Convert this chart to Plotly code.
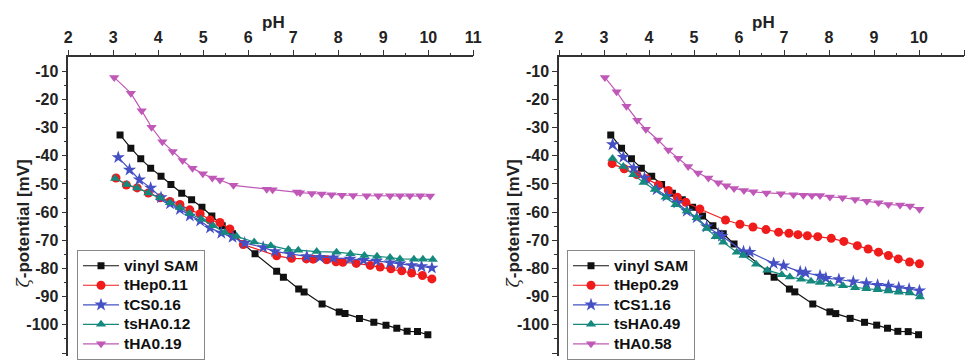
import plotly.graph_objects as go

# ---- data: zeta potential vs pH ----
# vinyl SAM reference (same surface in both panels)
ph_sam = [3.15, 3.39, 3.61, 3.83, 4.06, 4.28, 4.52, 4.74, 4.97, 5.19, 5.42, 5.65, 5.89, 6.15,
          6.63, 6.78, 7.12, 7.24, 7.64, 8.02, 8.15, 8.47, 8.79, 9.06, 9.30, 9.53, 9.76, 9.99]
zeta_sam = [-32.6, -37.3, -41.1, -44.4, -47.3, -50.2, -53.3, -55.6, -58.3, -61.4, -64.8, -67.7, -71.3, -74.8,
            -81.0, -83.1, -87.3, -88.3, -92.6, -95.4, -96.0, -97.7, -99.1, -100.1, -101.2, -102.3, -102.4, -103.5]

# left panel
ph_hep011 = [3.06, 3.29, 3.53, 3.78, 4.04, 4.26, 4.48, 4.70, 4.93, 5.15, 5.37, 5.59, 5.89, 6.63,
             6.96, 7.29, 7.44, 7.74, 7.95, 8.10, 8.40, 8.71, 8.93, 9.17, 9.41, 9.63, 9.87, 10.08]
zeta_hep011 = [-47.9, -50.4, -51.4, -53.2, -54.9, -56.2, -57.3, -59.2, -60.6, -62.8, -63.7, -66.0, -71.5, -75.5,
               -76.4, -76.6, -76.7, -76.9, -77.6, -77.8, -78.2, -78.9, -79.5, -80.1, -80.8, -81.6, -82.5, -83.7]

ph_cs016 = [3.11, 3.36, 3.58, 3.83, 4.06, 4.26, 4.48, 4.70, 4.93, 5.15, 5.40, 5.65, 5.92, 6.33,
            6.59, 6.93, 7.30, 7.59, 7.89, 8.26, 8.56, 8.85, 9.15, 9.37, 9.63, 9.85, 10.08]
zeta_cs016 = [-40.6, -45.0, -48.5, -51.4, -54.8, -57.0, -59.0, -61.3, -63.1, -65.6, -67.4, -68.9, -71.0, -72.5,
              -73.9, -74.8, -75.7, -76.0, -76.2, -76.6, -77.0, -77.3, -77.9, -78.3, -78.9, -79.3, -79.8]

ph_sha012 = [3.04, 3.30, 3.53, 3.78, 4.04, 4.26, 4.48, 4.70, 4.96, 5.22, 5.48, 5.74, 6.13,
             6.50, 6.89, 7.11, 7.52, 7.96, 8.27, 8.58, 8.86, 9.15, 9.37, 9.68, 9.88, 10.10]
zeta_sha012 = [-48.1, -50.2, -51.4, -53.2, -54.9, -56.7, -58.4, -60.5, -62.5, -64.8, -67.2, -68.6, -70.6,
               -71.9, -73.3, -73.5, -74.0, -74.2, -74.8, -75.4, -75.7, -76.1, -76.6, -76.7, -76.7, -76.8]

ph_ha019 = [3.02, 3.39, 3.63, 3.85, 4.09, 4.32, 4.54, 4.76, 4.99, 5.20, 5.37, 5.67, 6.41, 6.54,
            7.08, 7.15, 7.41, 7.63, 7.85, 8.08, 8.33, 8.63, 8.89, 9.15, 9.37, 9.59, 9.82, 10.04]
zeta_ha019 = [-12.2, -17.8, -24.0, -29.9, -35.0, -38.5, -41.7, -44.4, -46.4, -47.9, -48.6, -50.5, -51.9, -52.1,
              -52.9, -53.1, -53.4, -53.6, -53.8, -54.0, -54.1, -54.2, -54.2, -54.2, -54.2, -54.2, -54.2, -54.3]

# right panel
ph_hep029 = [3.18, 3.45, 3.73, 3.95, 4.21, 4.43, 4.63, 4.82, 5.13, 5.70, 6.02, 6.31, 6.60, 6.88,
             7.11, 7.31, 7.52, 7.75, 8.05, 8.33, 8.63, 8.87, 9.10, 9.32, 9.54, 9.79, 10.01]
zeta_hep029 = [-42.8, -44.6, -46.7, -48.2, -50.4, -52.3, -54.7, -56.5, -58.9, -62.8, -64.3, -65.3, -66.2, -67.1,
               -67.5, -68.0, -68.4, -68.7, -69.3, -70.4, -71.9, -73.1, -74.2, -75.4, -76.6, -77.7, -78.3]

ph_cs116 = [3.19, 3.43, 3.66, 3.90, 4.17, 4.39, 4.63, 4.84, 5.06, 5.28, 5.54, 5.62, 6.10, 6.24,
            6.77, 6.99, 7.36, 7.48, 7.80, 7.93, 8.22, 8.54, 8.83, 9.08, 9.32, 9.55, 9.78, 10.01]
zeta_cs116 = [-36.0, -40.5, -44.4, -47.9, -52.0, -54.3, -56.7, -59.6, -61.9, -65.2, -67.8, -68.5, -74.0, -74.2,
              -78.2, -79.0, -81.2, -81.5, -82.6, -83.4, -83.9, -84.7, -85.3, -85.9, -86.2, -86.8, -87.3, -87.9]

ph_sha049 = [3.19, 3.43, 3.65, 3.88, 4.13, 4.37, 4.59, 4.84, 5.06, 5.28, 5.48, 5.65, 5.95, 6.10, 6.38,
             6.63, 6.95, 7.13, 7.38, 7.60, 7.80, 8.03, 8.31, 8.58, 8.83, 9.08, 9.32, 9.55, 9.80, 10.02]
zeta_sha049 = [-41.0, -43.8, -46.7, -49.5, -52.0, -54.7, -57.4, -59.6, -62.0, -65.8, -68.7, -70.7, -74.2, -75.4, -78.5,
               -80.6, -82.2, -83.0, -83.8, -84.5, -85.0, -85.6, -86.1, -86.8, -87.2, -87.5, -88.0, -88.4, -88.7, -90.1]

ph_ha058 = [3.02, 3.28, 3.50, 3.74, 3.93, 4.20, 4.43, 4.65, 4.87, 5.09, 5.32, 5.54, 5.72, 5.89, 6.11, 6.32,
            6.61, 6.93, 7.21, 7.43, 7.62, 7.80, 8.02, 8.30, 8.58, 8.84, 9.10, 9.32, 9.58, 9.80, 10.01]
zeta_ha058 = [-12.2, -17.3, -22.4, -27.4, -30.6, -34.4, -38.0, -40.9, -43.8, -46.1, -47.9, -49.6, -50.6, -51.6, -52.3, -52.8,
              -53.2, -53.5, -53.8, -54.0, -54.1, -54.1, -54.6, -54.9, -55.5, -56.1, -56.7, -57.3, -57.5, -57.8, -59.0]

x_ticks = [2, 3, 4, 5, 6, 7, 8, 9, 10, 11]
y_ticks = [-10, -20, -30, -40, -50, -60, -70, -80, -90, -100, -110]

BLACK = "#111111"
RED = "#f01c1c"
BLUE = "#4450c4"
TEAL = "#15897e"
MAGENTA = "#c058b8"

FONT = "Liberation Sans, Arial, sans-serif"

left = [
    ("vinyl SAM", ph_sam, zeta_sam, BLACK, "square", 7),
    ("tHep0.11", ph_hep011, zeta_hep011, RED, "circle", 9),
    ("tCS0.16", ph_cs016, zeta_cs016, BLUE, "star", 10),
    ("tsHA0.12", ph_sha012, zeta_sha012, TEAL, "triangle-up", 9),
    ("tHA0.19", ph_ha019, zeta_ha019, MAGENTA, "triangle-down", 9),
]
right = [
    ("vinyl SAM", ph_sam, zeta_sam, BLACK, "square", 7),
    ("tHep0.29", ph_hep029, zeta_hep029, RED, "circle", 9),
    ("tCS1.16", ph_cs116, zeta_cs116, BLUE, "star", 10),
    ("tsHA0.49", ph_sha049, zeta_sha049, TEAL, "triangle-up", 9),
    ("tHA0.58", ph_ha058, zeta_ha058, MAGENTA, "triangle-down", 9),
]


def legend_label(text):
    # large bold entry text on a compact row pitch
    return "<span style='font-size:15.5px;font-weight:bold'>" + text + "</span>"


fig = go.Figure()
for series, xa, ya, lg in [(left, "x", "y", "legend"), (right, "x2", "y2", "legend2")]:
    for name, xs, ys, col, sym, sz in series:
        fig.add_trace(go.Scatter(
            x=xs, y=ys, name=legend_label(name), mode="lines+markers",
            line=dict(color=col, width=1.2),
            marker=dict(symbol=sym, size=sz, color=col, line=dict(width=0)),
            xaxis=xa, yaxis=ya, legend=lg,
        ))

W, H = 965, 360
TOP = 58  # pixel row of the top (pH) axis line
axis_col = "#333333"
tickfont = dict(family=FONT, size=16, color="#222222")
titlefont = dict(family=FONT, size=17, color="#222222")


def xaxis(domain, anchor):
    return dict(
        domain=domain, anchor=anchor, side="top", range=[2, 11], automargin=False,
        tickvals=x_ticks, ticktext=["<b>%d</b>" % v for v in x_ticks],
        ticks="outside", ticklen=6, tickwidth=1.3, tickcolor=axis_col,
        minor=dict(dtick=0.5, tick0=2, ticks="outside", ticklen=3, tickwidth=1.2, tickcolor=axis_col),
        showline=True, linecolor=axis_col, linewidth=1.5, showgrid=False, zeroline=False,
        tickfont=tickfont,
    )


def yaxis(anchor):
    return dict(
        domain=[0, (H - TOP) / H], anchor=anchor, range=[-111.05, -5.09], automargin=False,
        tickvals=y_ticks, ticktext=["<b>%d</b>" % v for v in y_ticks],
        ticks="outside", ticklen=5, tickwidth=1.3, tickcolor=axis_col,
        minor=dict(dtick=5, tick0=-5, ticks="outside", ticklen=3, tickwidth=1.2, tickcolor=axis_col),
        showline=True, linecolor=axis_col, linewidth=1.5, showgrid=False, zeroline=False,
        tickfont=tickfont,
    )


legend_style = dict(
    xanchor="left", yanchor="top", bgcolor="white", bordercolor="#888888", borderwidth=1,
    font=dict(family=FONT, size=12.7, color="#111111"),
    itemwidth=36, tracegroupgap=0,
)

zeta_title = ("<span style='font-family:DejaVu Serif;font-style:italic;font-weight:normal'>ζ</span>"
              "<b>-potential [mV]</b>")

annotations = []
for cx, ty in [(273, 23), (763, 23)]:
    annotations.append(dict(text="<b>pH</b>", x=cx / W, y=(H - ty) / H, xref="paper", yref="paper",
                            showarrow=False, font=titlefont, xanchor="center", yanchor="middle"))
for cx in [23, 513]:
    annotations.append(dict(text=zeta_title, x=cx / W, y=(H - 226) / H,
                            xref="paper", yref="paper", showarrow=False, textangle=-90,
                            font=titlefont, xanchor="center", yanchor="middle"))

fig.update_layout(
    width=W, height=H, margin=dict(l=0, r=0, t=0, b=0),
    paper_bgcolor="white", plot_bgcolor="white",
    xaxis=xaxis([68.3 / W, 473.3 / W], "y"),
    yaxis=yaxis("x"),
    xaxis2=xaxis([559 / W, 964 / W], "y2"),
    yaxis2=yaxis("x2"),
    legend=dict(x=77 / W, y=(H - 253) / H, **legend_style),
    legend2=dict(x=567 / W, y=(H - 253) / H, **legend_style),
    showlegend=True,
    annotations=annotations,
)

fig.write_html("out.html")
